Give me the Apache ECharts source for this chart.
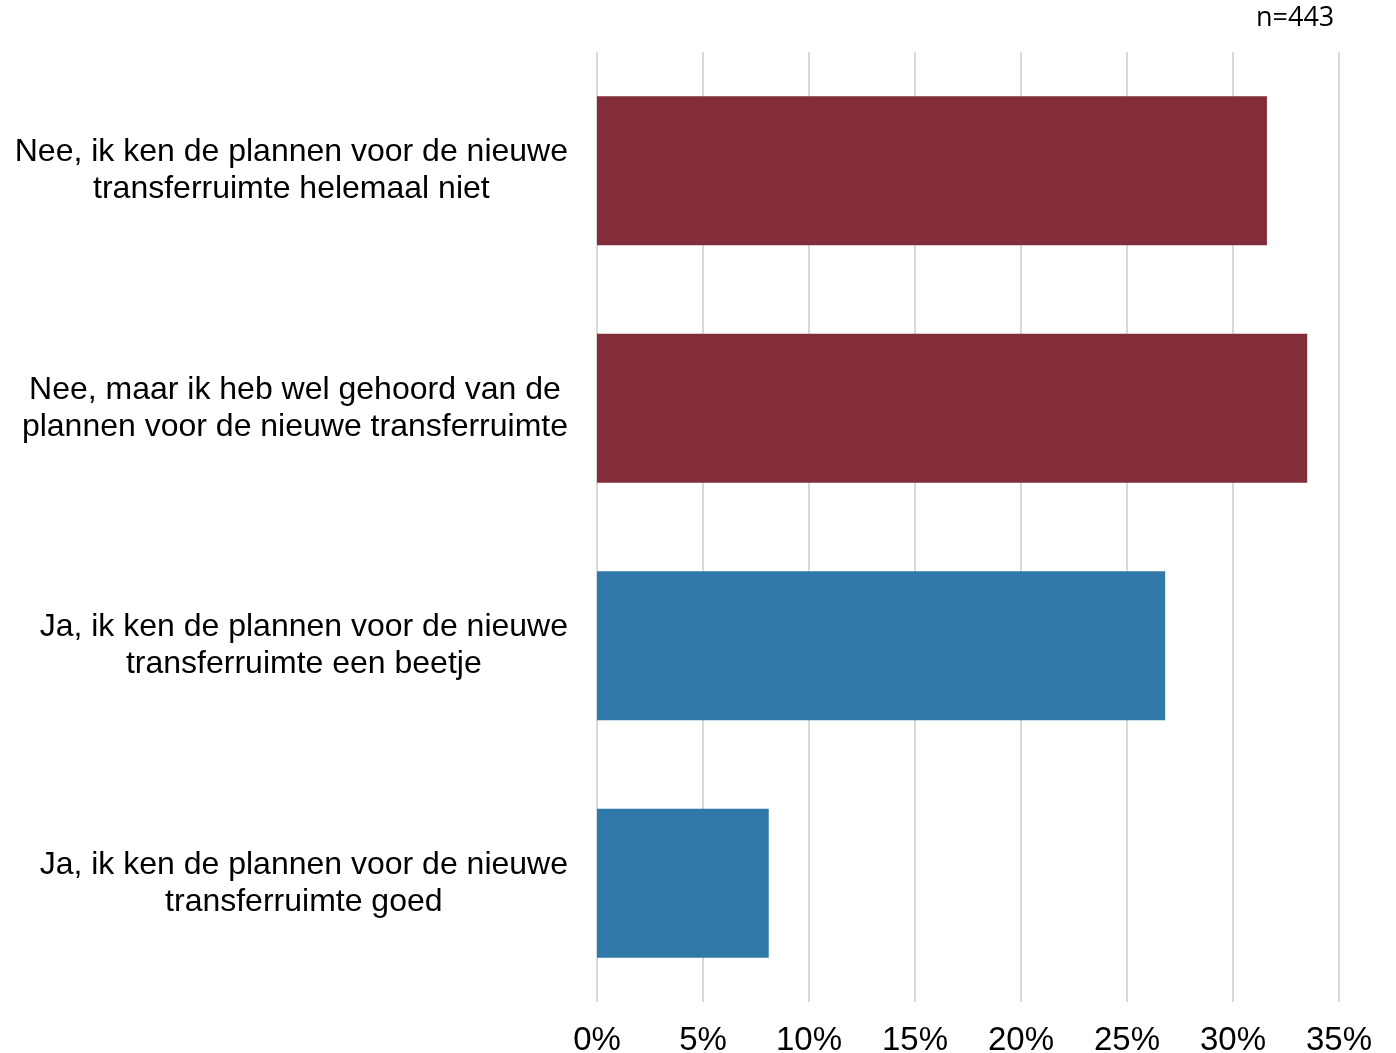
<!DOCTYPE html>
<html>
<head>
<meta charset="utf-8">
<script src="https://cdn.jsdelivr.net/npm/echarts@6/dist/echarts.min.js"></script>
<style>
  html, body { margin: 0; padding: 0; background: #fff; }
  #chart { width: 1396px; height: 1053px; }
</style>
</head>
<body>
<div id="chart"></div>
<script>
// categorieen (van boven naar beneden)
var categories = [
  'Nee, ik ken de plannen voor de nieuwe\ntransferruimte helemaal niet',
  'Nee, maar ik heb wel gehoord van de\nplannen voor de nieuwe transferruimte',
  'Ja, ik ken de plannen voor de nieuwe\ntransferruimte een beetje',
  'Ja, ik ken de plannen voor de nieuwe\ntransferruimte goed'
];
// percentages
var values = [31.6, 33.5, 26.8, 8.1];
var barColors = ['#842d3a', '#842d3a', '#3078a8', '#3078a8'];
var sampleText = 'n=443';

var myChart = echarts.init(document.getElementById('chart'));
var option = {
  animation: false,
  graphic: [{
    type: 'text',
    left: 1256,
    top: 5,
    style: {
      text: sampleText,
      font: '27px "Open Sans", sans-serif',
      fill: '#000'
    }
  }],
  grid: {
    left: 597,
    right: 57,
    top: 52,
    bottom: 51,
    containLabel: false,
    outerBoundsMode: 'none'
  },
  xAxis: {
    type: 'value',
    min: 0,
    max: 35,
    interval: 5,
    axisLine: { show: false },
    axisTick: { show: false },
    splitLine: { lineStyle: { color: '#d9d9d9', width: 2 } },
    axisLabel: {
      margin: 22,
      formatter: '{value}%',
      color: '#000',
      fontFamily: '"Liberation Sans Narrow", "Liberation Sans", Arial, sans-serif',
      fontSize: 33
    }
  },
  yAxis: {
    type: 'category',
    inverse: true,
    data: categories,
    axisLine: { show: false },
    axisTick: { show: false },
    axisLabel: {
      margin: 29,
      align: 'right',
      formatter: function (v) {
        return v.split('\n').map(function (l) { return '{c|' + l + '}'; }).join('\n');
      },
      rich: {
        c: {
          align: 'center',
          color: '#000',
          fontFamily: '"Liberation Sans", Arial, sans-serif',
          fontSize: 32,
          lineHeight: 37
        }
      }
    }
  },
  series: [{
    type: 'bar',
    barWidth: '62.7%',
    data: values.map(function (v, i) {
      return { value: v, itemStyle: { color: barColors[i] } };
    })
  }]
};
myChart.setOption(option);
</script>
</body>
</html>
